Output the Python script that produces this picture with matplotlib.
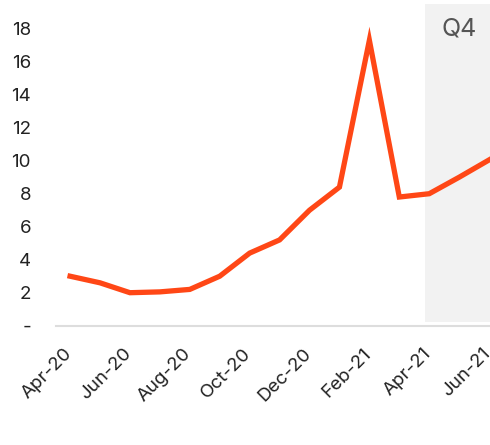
import matplotlib
matplotlib.use("Agg")
import matplotlib.pyplot as plt
from matplotlib.transforms import ScaledTranslation

months = ["Apr-20", "May-20", "Jun-20", "Jul-20", "Aug-20", "Sep-20", "Oct-20",
          "Nov-20", "Dec-20", "Jan-21", "Feb-21", "Mar-21", "Apr-21", "May-21", "Jun-21"]
values = [3.0, 2.6, 2.0, 2.05, 2.2, 3.0, 4.4, 5.2, 7.0, 8.4, 17.3, 7.8, 8.0, 9.0, 10.05]
y_ticks = [0, 2, 4, 6, 8, 10, 12, 14, 16, 18]
y_tick_labels = ["-", "2", "4", "6", "8", "10", "12", "14", "16", "18"]
shade_start_label = "Apr-21"
shade_text = "Q4"

plt.rcParams['font.family'] = ['Inter', 'DejaVu Sans']

fig = plt.figure(figsize=(4.9, 4.45), dpi=100)
ax = fig.add_axes([56/490, 119.3/445, 1 - 56/490, 321.7/445])

x = list(range(len(months)))
si = months.index(shade_start_label)
ax.axvspan(si - 0.13, len(months), ymin=0.012, ymax=1.0, color="#f2f2f2", lw=0, zorder=0)
ax.plot(x, values, color="#ff4716", lw=3.8, solid_joinstyle="miter", zorder=3, clip_on=True)
ax.text(si + 1.0, 18.0, shade_text, fontsize=18, color="#555555", ha="center", va="center")

ax.set_xlim(-0.47, 14.03)
ax.set_ylim(0, 19.5)
ax.set_yticks(y_ticks)
ax.set_yticklabels(y_tick_labels)
ax.set_xticks(x[::2])
ax.set_xticklabels(months[::2], rotation=45, ha="right", rotation_mode="anchor")

for s in ["top", "right", "left"]:
    ax.spines[s].set_visible(False)
ax.spines["bottom"].set_color("#dddddd")
ax.spines["bottom"].set_linewidth(1.5)
ax.tick_params(axis="both", length=0, labelsize=13.5, colors="#222222")
ax.tick_params(axis="y", pad=18)
ax.tick_params(axis="x", pad=14)

off = ScaledTranslation(-7/100, 0, fig.dpi_scale_trans)
for lbl in ax.get_xticklabels():
    lbl.set_transform(lbl.get_transform() + off)

fig.savefig("out.png", dpi=100)
